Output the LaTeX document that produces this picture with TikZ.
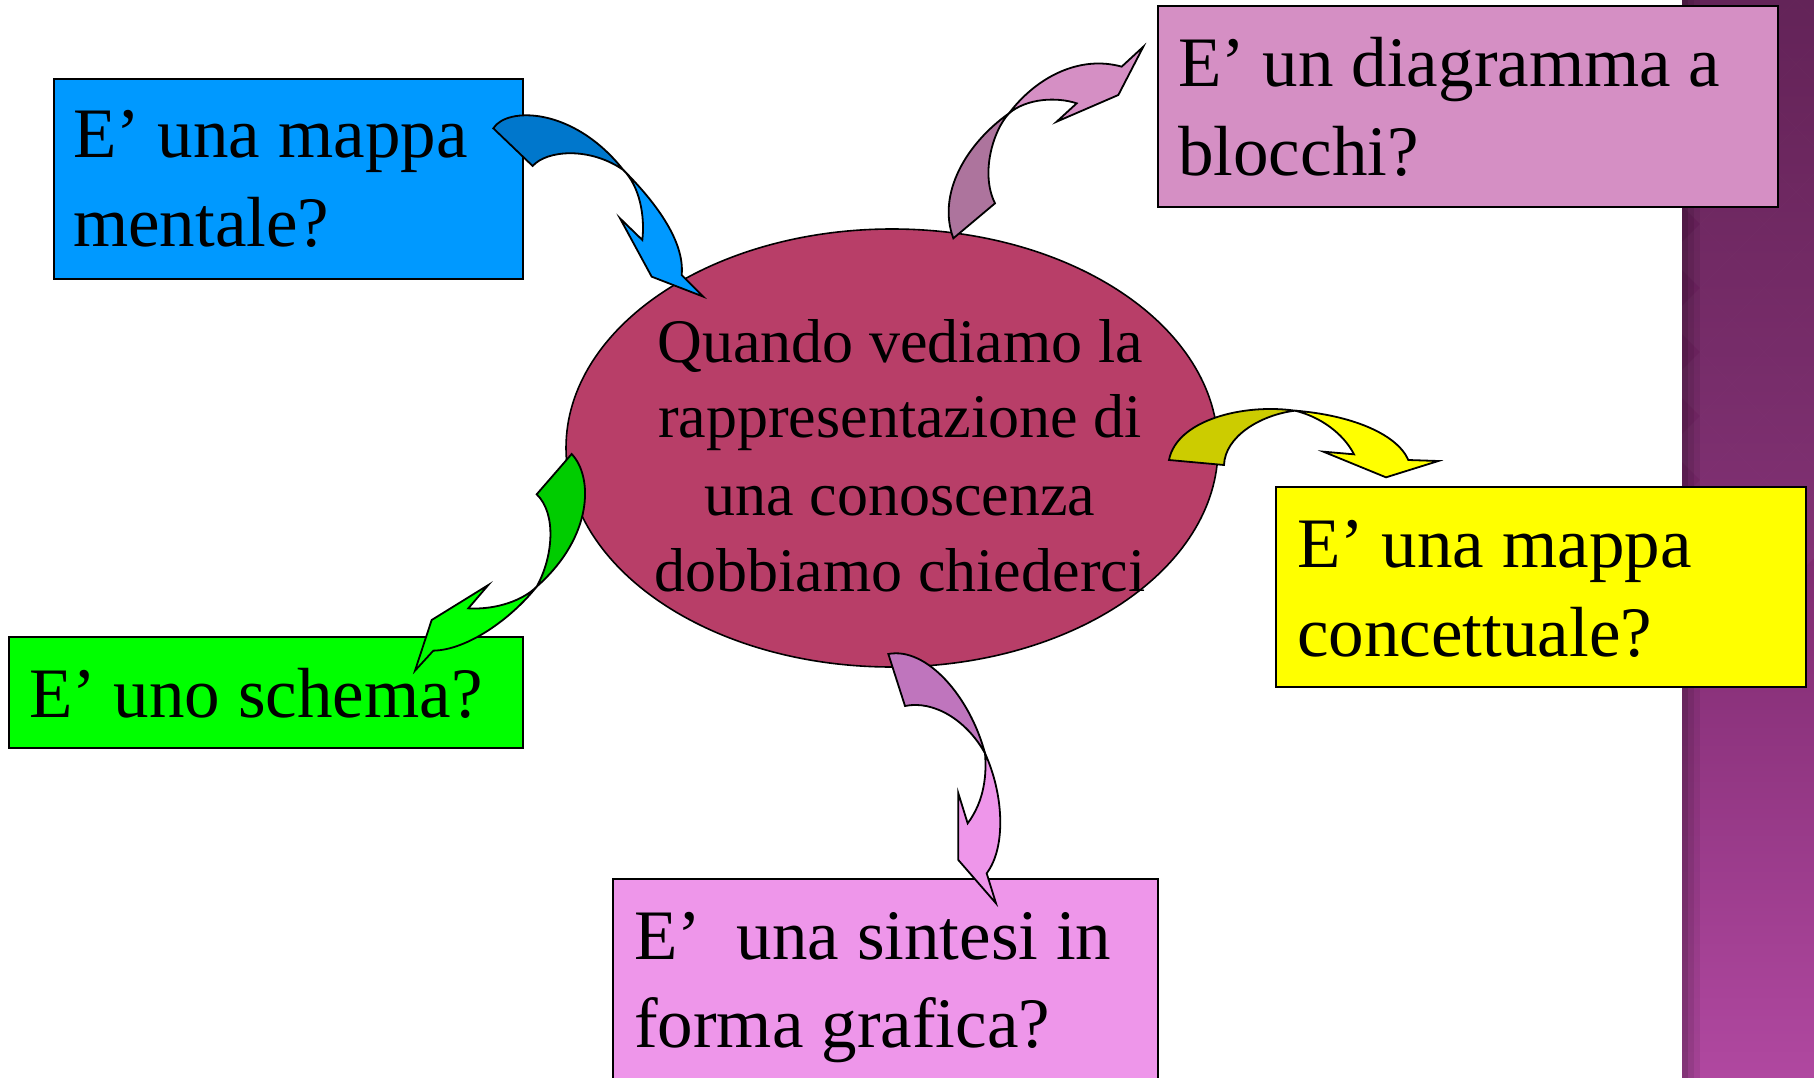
\documentclass[tikz,border=0pt]{standalone}
\usepackage{fontspec}
\setmainfont{Liberation Serif}
\usetikzlibrary{shapes.geometric}
\definecolor{ellcol}{RGB}{184,62,104}
\definecolor{bluebox}{RGB}{0,153,255}
\definecolor{bluetail}{RGB}{0,119,204}
\definecolor{pinkbox}{RGB}{213,143,196}
\definecolor{pinktail}{RGB}{173,116,157}
\definecolor{yelbox}{RGB}{255,255,0}
\definecolor{yeltail}{RGB}{204,204,0}
\definecolor{grnbox}{RGB}{0,255,0}
\definecolor{grntail}{RGB}{0,204,0}
\definecolor{lpinkbox}{RGB}{238,150,234}
\definecolor{lpinktail}{RGB}{191,117,189}
\definecolor{bandtop}{RGB}{94,28,82}
\definecolor{bandmid}{RGB}{125,42,110}
\definecolor{bandbot}{RGB}{176,72,160}
\begin{document}
\begin{tikzpicture}[x=1pt,y=-1pt,
  box/.style={draw=black, line width=2pt, inner sep=0pt, outer sep=0pt, anchor=north west},
  bigtxt/.style={font=\fontsize{71}{88}\selectfont, inner sep=0pt, anchor=base west},
  midtxt/.style={font=\fontsize{62}{76}\selectfont, inner sep=0pt, anchor=base},
  arrowpart/.style={draw=black, line width=1.8pt, line join=miter}]
\useasboundingbox (0,0) rectangle (1814,1078);
\clip (0,0) rectangle (1814,1078);
% right band
\shade[top color=bandtop, bottom color=bandbot, middle color=bandmid] (1682,0) rectangle (1814,1078);
\begin{scope}
\clip (1682,0) rectangle (1814,1078);
\foreach \i in {0,...,17} {
  \foreach \j in {0,1,2} {
    \pgfmathsetmacro{\cx}{1700+64*\j+32*mod(\i,2)}
    \pgfmathsetmacro{\cy}{32*\i}
    \fill[white, opacity=0.035] (\cx,\cy-32) -- (\cx+32,\cy) -- (\cx,\cy+32) -- (\cx-32,\cy) -- cycle;
  }
}
\end{scope}
\fill[black, opacity=0.25] (1682,0) rectangle (1688,1078);
\fill[black, opacity=0.15] (1688,0) rectangle (1694,1078);
\fill[black, opacity=0.07] (1694,0) rectangle (1700,1078);
% central ellipse
\node[ellipse, draw=black, line width=1.6pt, fill=ellcol, minimum width=652pt, minimum height=438pt, inner sep=0pt] (c) at (892,448) {};
\node[midtxt] (c1) at (900,362) {Quando vediamo la};
\node[midtxt] (c2) at (900,437) {rappresentazione di};
\node[midtxt] (c3) at (900,515) {una conoscenza};
\node[midtxt] (c4) at (900,591) {dobbiamo chiederci};
% boxes
\node[box, fill=bluebox, minimum width=469pt, minimum height=200pt] (b1) at (54,79) {};
\node[bigtxt] (b1a) at (73,158) {E’ una mappa};
\node[bigtxt] (b1b) at (73,246) {mentale?};
\node[box, fill=pinkbox, minimum width=620pt, minimum height=201pt] (b2) at (1158,6) {};
\node[bigtxt] (b2a) at (1178,87) {E’ un diagramma a};
\node[bigtxt] (b2b) at (1178,176) {blocchi?};
\node[box, fill=yelbox, minimum width=530pt, minimum height=200pt] (b3) at (1276,487) {};
\node[bigtxt] (b3a) at (1297,567) {E’ una mappa};
\node[bigtxt] (b3b) at (1297,656) {concettuale?};
\node[box, fill=grnbox, minimum width=514pt, minimum height=111pt] (b4) at (9,637) {};
\node[bigtxt] (b4a) at (29,717) {E’ uno schema?};
\node[box, fill=lpinkbox, minimum width=545pt, minimum height=220pt] (b5) at (613,879) {};
\node[bigtxt] (b5a) at (634,959) {E’ \ una sintesi in};
\node[bigtxt] (b5b) at (634,1047) {forma grafica?};
% blue arrow
\begin{scope}[shift={(480,90)}, scale=1/3]
\path[arrowpart, fill=bluebox] (430,240) .. controls (520,330) and (615,450) .. (605,555) -- (670,620) -- (515,560) -- (420,385) -- (487,450) .. controls (495,380) and (480,290) .. (430,240) -- cycle;
\path[arrowpart, fill=bluetail] (40,115) .. controls (80,50) and (280,50) .. (430,240) .. controls (330,170) and (200,180) .. (158,228) -- cycle;
\end{scope}
% pink top arrow
\begin{scope}[shift={(930,0)}, scale=1/3]
\path[arrowpart, fill=pinkbox] (237,340) .. controls (320,230) and (450,165) .. (575,200) -- (640,140) -- (565,285) -- (380,365) -- (440,310) .. controls (380,290) and (290,295) .. (237,340) -- cycle;
\path[arrowpart, fill=pinktail] (70,715) .. controls (20,580) and (110,430) .. (237,340) .. controls (190,390) and (150,520) .. (195,610) -- cycle;
\end{scope}
% yellow arrow
\begin{scope}[shift={(1150,390)}, scale=1/3]
\path[arrowpart, fill=yelbox] (435,62) .. controls (600,75) and (740,130) .. (775,210) -- (865,213) -- (708,262) -- (520,185) -- (612,193) .. controls (580,130) and (510,80) .. (435,62) -- cycle;
\path[arrowpart, fill=yeltail] (57,210) .. controls (80,90) and (280,40) .. (435,62) .. controls (330,75) and (225,140) .. (222,225) -- cycle;
\end{scope}
% green arrow
\begin{scope}[shift={(400,440)}, scale=1/3]
\path[arrowpart, fill=grnbox] (410,440) .. controls (330,540) and (200,630) .. (100,632) -- (45,692) -- (95,540) -- (265,435) -- (205,505) .. controls (290,510) and (370,480) .. (410,440) -- cycle;
\path[arrowpart, fill=grntail] (515,42) .. controls (580,110) and (580,290) .. (410,440) .. controls (460,350) and (470,220) .. (410,163) -- cycle;
\end{scope}
% lower pink arrow
\begin{scope}[shift={(870,640)}, scale=1/3]
\path[arrowpart, fill=lpinkbox] (345,340) .. controls (400,460) and (410,620) .. (350,700) -- (378,790) -- (265,660) -- (265,460) -- (293,550) .. controls (345,480) and (350,400) .. (345,340) -- cycle;
\path[arrowpart, fill=lpinktail] (55,42) .. controls (170,20) and (300,170) .. (345,340) .. controls (290,240) and (190,180) .. (105,198) -- cycle;
\end{scope}
\end{tikzpicture}
\end{document}
